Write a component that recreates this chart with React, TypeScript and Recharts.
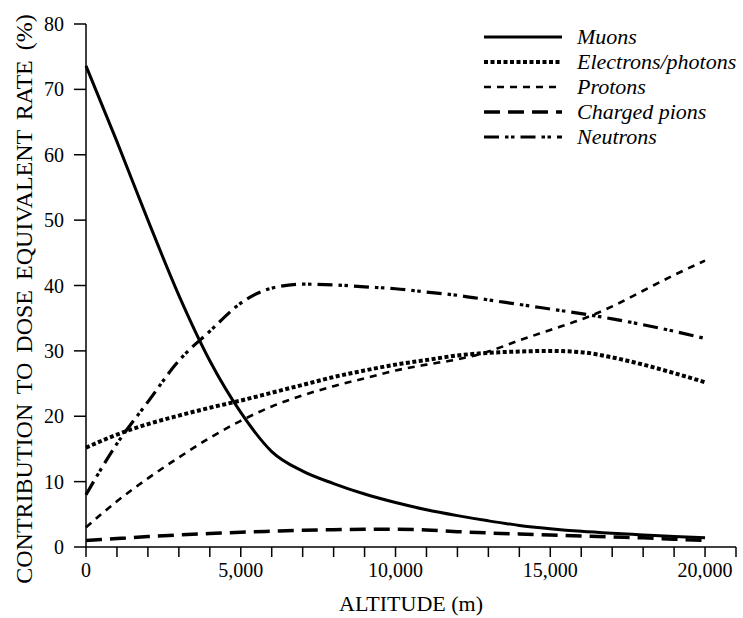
import { LineChart, Line, XAxis, YAxis } from "recharts";

const altitudes = [
  0, 1000, 2000, 3000, 4000, 5000, 6000, 7000, 8000, 9000, 10000,
  11000, 12000, 13000, 14000, 15000, 16000, 17000, 18000, 19000, 20000,
];
const muons = [
  73.6, 62, 50, 38.5, 28.5, 20.6, 14.6, 11.6, 9.7, 8.1, 6.8,
  5.7, 4.8, 4.0, 3.3, 2.8, 2.4, 2.1, 1.85, 1.6, 1.4,
];
const electrons = [
  15.2, 17.2, 18.8, 20.1, 21.3, 22.4, 23.6, 24.8, 26, 27, 27.9,
  28.6, 29.3, 29.7, 29.9, 30, 29.8, 29, 27.9, 26.6, 25.2,
];
const protons = [
  3, 7, 10.5, 13.7, 16.7, 19.3, 21.5, 23.2, 24.6, 25.8, 27,
  27.9, 28.7, 29.9, 31.6, 33.2, 34.8, 36.8, 39.2, 41.6, 43.8,
];
const chargedPions = [
  1, 1.3, 1.6, 1.85, 2.05, 2.25, 2.4, 2.55, 2.65, 2.7, 2.7,
  2.6, 2.35, 2.15, 2, 1.85, 1.7, 1.55, 1.4, 1.2, 1.0,
];
const neutrons = [
  8, 15.8, 22.2, 28.5, 33, 37.3, 39.6, 40.2, 40.1, 39.8, 39.5,
  39, 38.5, 37.8, 37.1, 36.4, 35.7, 34.9, 34, 33, 31.9,
];

const xTicks = [
  0, 1000, 2000, 3000, 4000, 5000, 6000, 7000, 8000, 9000, 10000,
  11000, 12000, 13000, 14000, 15000, 16000, 17000, 18000, 19000, 20000, 21000,
];
const xLabelled = [0, 5000, 10000, 15000, 20000];
const yTicks = [0, 10, 20, 30, 40, 50, 60, 70, 80];

const data = altitudes.map((alt, i) => ({
  alt,
  muons: muons[i],
  electrons: electrons[i],
  protons: protons[i],
  pions: chargedPions[i],
  neutrons: neutrons[i],
}));

const series = [
  { key: "muons", name: "Muons", width: 3, dash: undefined as string | undefined },
  { key: "electrons", name: "Electrons/photons", width: 4, dash: "4 2.5" },
  { key: "protons", name: "Protons", width: 2.6, dash: "7 6" },
  { key: "pions", name: "Charged pions", width: 3.5, dash: "16 8" },
  { key: "neutrons", name: "Neutrons", width: 3.2, dash: "15 6 3.5 2.5 3.5 6" },
];

const font = "Liberation Serif, Times New Roman, serif";

function LegendBox() {
  return (
    <div
      style={{
        position: "absolute",
        left: 484,
        top: 24,
        fontFamily: font,
        fontStyle: "italic",
        fontSize: 22,
        lineHeight: "25px",
        color: "#000",
        whiteSpace: "nowrap",
      }}
    >
      {series.map((s) => (
        <div key={s.key} style={{ display: "flex", alignItems: "center", height: 25 }}>
          <svg width={78} height={10} style={{ marginRight: 15, flexShrink: 0 }}>
            <line x1={0} y1={5} x2={78} y2={5} stroke="#000" strokeWidth={s.width} strokeDasharray={s.dash} />
          </svg>
          <span>{s.name}</span>
        </div>
      ))}
    </div>
  );
}

function YLabel() {
  return (
    <text
      x={24}
      y={299}
      transform="rotate(-90 24 299)"
      textAnchor="middle"
      dominantBaseline="central"
      fill="#000"
      fontSize={24}
      fontFamily={font}
      style={{ wordSpacing: 4 }}
    >
      CONTRIBUTION TO DOSE EQUIVALENT RATE (%)
    </text>
  );
}

export default function App() {
  return (
    <div style={{ position: "absolute", left: 0, top: 0, width: 743, height: 618, background: "#fff" }}>
      <LineChart width={743} height={618} data={data} margin={{ top: 24, right: 7, bottom: 0, left: 0 }}>
        <XAxis
          dataKey="alt"
          type="number"
          domain={[0, 21000]}
          ticks={xTicks}
          interval={0}
          tickFormatter={(v: number) => (xLabelled.includes(v) ? v.toLocaleString("en-US") : "")}
          stroke="#000"
          strokeWidth={1.5}
          tickSize={10}
          tick={{ fill: "#000", fontSize: 20, fontFamily: font }}
          tickMargin={6}
          height={71}
          label={{ value: "ALTITUDE (m)", position: "insideBottom", offset: 7, fill: "#000", fontSize: 22, fontFamily: font }}
        />
        <YAxis
          type="number"
          domain={[0, 80]}
          ticks={yTicks}
          interval={0}
          stroke="#000"
          strokeWidth={1.5}
          tickSize={12}
          width={86}
          tick={{ fill: "#000", fontSize: 20, fontFamily: font }}
          tickMargin={10}
          label={{ content: () => <YLabel /> }}
        />
        {series.map((s) => (
          <Line
            key={s.key}
            type="monotone"
            dataKey={s.key}
            name={s.name}
            stroke="#000"
            strokeWidth={s.width}
            strokeDasharray={s.dash}
            dot={false}
            isAnimationActive={false}
          />
        ))}
      </LineChart>
      <LegendBox />
    </div>
  );
}
